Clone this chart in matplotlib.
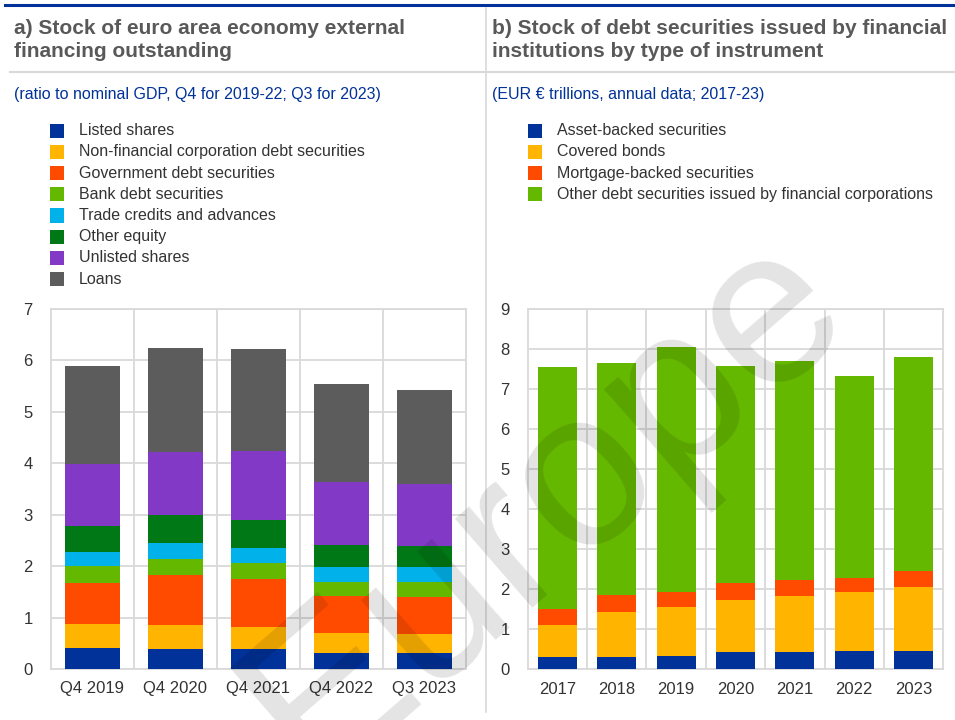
import numpy as np
import matplotlib
matplotlib.use('Agg')
from matplotlib import pyplot as plt
from matplotlib.patches import Rectangle
from matplotlib.lines import Line2D

plt.rcParams['font.family'] = ['Liberation Sans', 'DejaVu Sans']

# ------------ data, panel a (ratio to nominal GDP)
quarters = ['Q4 2019', 'Q4 2020', 'Q4 2021', 'Q4 2022', 'Q3 2023']
a_names = ['Listed shares', 'Non-financial corporation debt securities',
           'Government debt securities', 'Bank debt securities',
           'Trade credits and advances', 'Other equity', 'Unlisted shares', 'Loans']
listed_shares = [0.40, 0.38, 0.38, 0.305, 0.305]
nfc_debt = [0.475, 0.47, 0.44, 0.395, 0.37]
gov_debt = [0.80, 0.97, 0.93, 0.725, 0.725]
bank_debt = [0.33, 0.325, 0.32, 0.275, 0.30]
trade_credits = [0.27, 0.30, 0.28, 0.28, 0.28]
other_equity = [0.50, 0.55, 0.55, 0.44, 0.42]
unlisted_shares = [1.22, 1.23, 1.345, 1.22, 1.20]
loans = [1.90, 2.02, 1.97, 1.91, 1.82]
a_series = [listed_shares, nfc_debt, gov_debt, bank_debt, trade_credits,
            other_equity, unlisted_shares, loans]
a_colors = ['#003299', '#FFB400', '#FF4B00', '#65B800', '#00B1EA',
            '#007816', '#8139C6', '#5C5C5C']

# ------------ data, panel b (EUR trillions)
years = ['2017', '2018', '2019', '2020', '2021', '2022', '2023']
b_names = ['Asset-backed securities', 'Covered bonds', 'Mortgage-backed securities',
           'Other debt securities issued by financial corporations']
abs_sec = [0.29, 0.29, 0.325, 0.425, 0.425, 0.45, 0.45]
covered = [0.81, 1.13, 1.225, 1.305, 1.405, 1.475, 1.61]
mbs = [0.40, 0.44, 0.375, 0.42, 0.39, 0.355, 0.39]
other_debt = [6.04, 5.78, 6.135, 5.425, 5.49, 5.04, 5.35]
b_series = [abs_sec, covered, mbs, other_debt]
b_colors = ['#003299', '#FFB400', '#FF4B00', '#65B800']

W, H = 955, 720
fig = plt.figure(figsize=(W/100, H/100), dpi=100, facecolor='white')

def fx(px): return px / W
def fy(py): return 1 - py / H

grid_c = '#D9D9D9'
title_c = '#595959'
blue = '#003299'

# frame lines
fig.add_artist(Line2D([fx(5), 1], [fy(5), fy(5)], color=blue, lw=2.2))
fig.add_artist(Line2D([fx(10), 1], [fy(72), fy(72)], color=grid_c, lw=1.5))
fig.add_artist(Line2D([fx(486), fx(486)], [fy(8), fy(712)], color=grid_c, lw=1.2))

# titles
fig.text(fx(14), fy(40), 'a) Stock of euro area economy external\nfinancing outstanding',
         fontsize=15, fontweight='bold', color=title_c, va='center', linespacing=1.3)
fig.text(fx(492), fy(40), 'b) Stock of debt securities issued by financial\ninstitutions by type of instrument',
         fontsize=15, fontweight='bold', color=title_c, va='center', linespacing=1.3)
fig.text(fx(14), fy(95), '(ratio to nominal GDP, Q4 for 2019-22; Q3 for 2023)',
         fontsize=11.5, color=blue, va='center')
fig.text(fx(492), fy(95), '(EUR \u20ac trillions, annual data; 2017-23)',
         fontsize=11.5, color=blue, va='center')

# legends
def legend(names, colors, x_sq, x_txt):
    for i, (nm, c) in enumerate(zip(names, colors)):
        yc = 130.7 + i * 21.2
        fig.add_artist(Rectangle((fx(x_sq), fy(yc + 7)), 14 / W, 14 / H,
                                 facecolor=c, edgecolor='none'))
        fig.text(fx(x_txt), fy(yc), nm, fontsize=11.5, color='#333333', va='center')

legend(a_names, a_colors, 50, 79)
legend(b_names, b_colors, 528, 557)

def stacked(ax, cats, series, colors, ymax):
    x = np.arange(len(cats))
    bottom = np.zeros(len(cats))
    for vals, c in zip(series, colors):
        ax.bar(x, vals, bottom=bottom, width=0.66, color=c, zorder=3)
        bottom += np.array(vals)
    ax.set_xlim(-0.5, len(cats) - 0.5)
    ax.set_ylim(0, ymax)
    ax.set_yticks(range(0, ymax + 1))
    ax.set_xticks(x)
    ax.set_xticklabels(cats)
    ax.set_xticks(np.arange(0.5, len(cats) - 0.5), minor=True)
    ax.grid(axis='y', which='major', color=grid_c, lw=1.3, zorder=0)
    ax.grid(axis='x', which='minor', color=grid_c, lw=1.3, zorder=0)
    ax.tick_params(which='both', length=0)
    ax.tick_params(axis='y', labelsize=12, pad=13, colors='#333333')
    ax.tick_params(axis='x', labelsize=12, pad=9, colors='#333333')
    for s in ax.spines.values():
        s.set_color(grid_c)
        s.set_linewidth(1.3)
    ax.set_axisbelow(True)

ax1 = fig.add_axes([fx(50.7), fy(669), 415 / W, 360 / H])
stacked(ax1, quarters, a_series, a_colors, 7)
ax2 = fig.add_axes([fx(527.7), fy(669), 415.6 / W, 360 / H])
stacked(ax2, years, b_series, b_colors, 9)

# watermark
fig.text(fx(545), fy(505), 'Europe', fontsize=160, color='black', alpha=0.11,
         rotation=41, ha='center', va='center', zorder=10)

plt.savefig('out.png', dpi=100, facecolor='white')
